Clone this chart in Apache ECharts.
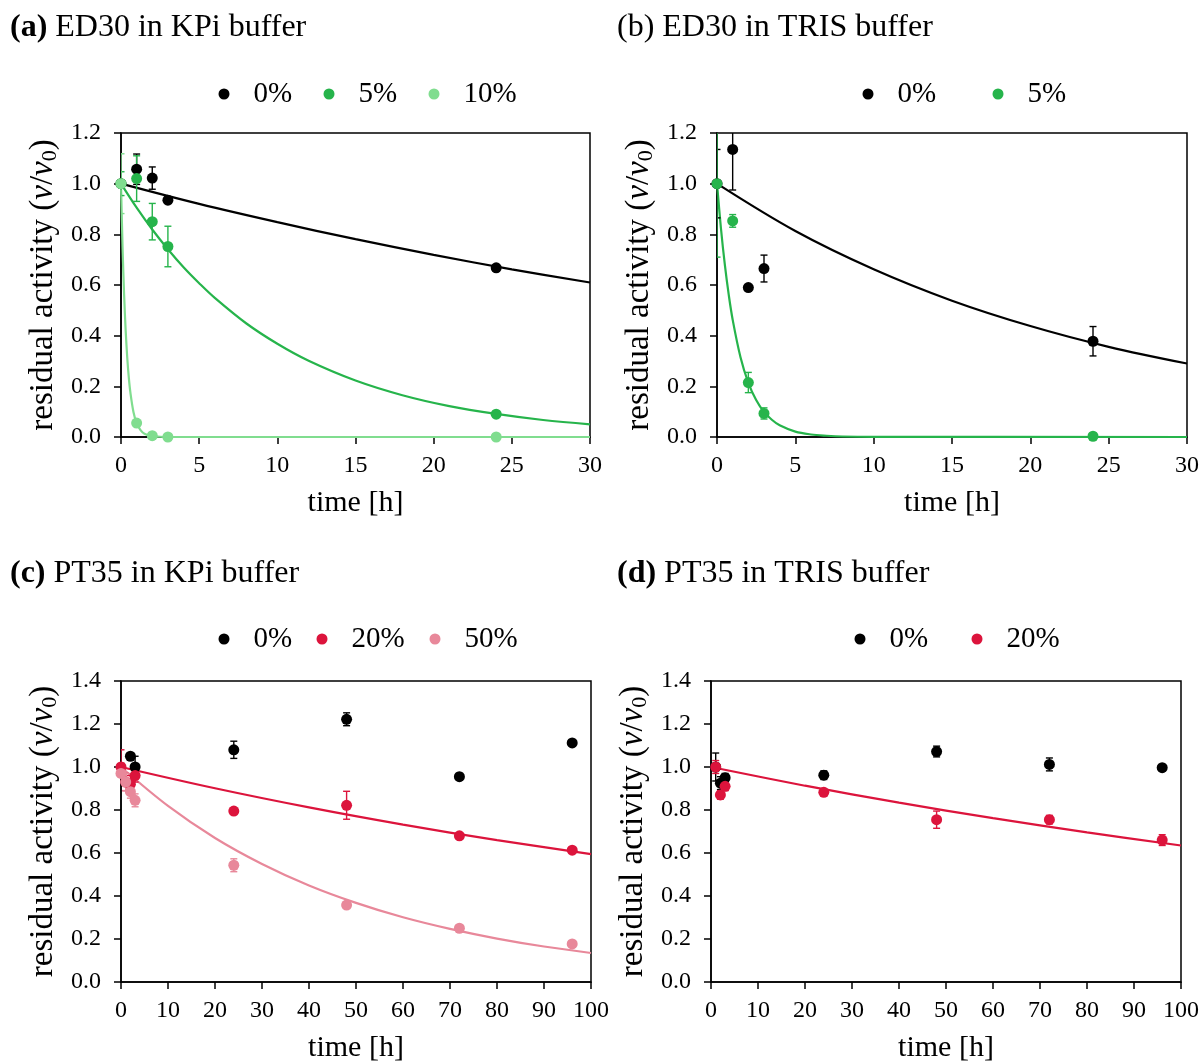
<!DOCTYPE html>
<html><head><meta charset="utf-8">
<script src="https://cdn.jsdelivr.net/npm/echarts@6/dist/echarts.min.js"></script>
<style>html,body{margin:0;padding:0;background:#fff}#c{width:1203px;height:1064px}</style>
</head><body><div id="c"></div>
<script>
// ---------- data ----------
// (a) ED30 in KPi buffer
const a0_t = [0, 1, 2, 3, 24];
const a0_v = [1.0, 1.057, 1.022, 0.935, 0.668];
const a0_e = [0.0, 0.06, 0.044, 0.012, 0.01];
const a5_t = [0, 1, 2, 3, 24];
const a5_v = [1.0, 1.02, 0.85, 0.752, 0.09];
const a5_e = [0.047, 0.09, 0.072, 0.08, 0.005];
const a10_t = [0, 1, 2, 3, 24];
const a10_v = [1.0, 0.055, 0.005, 0.0, 0.0];
const a10_e = [0.118, 0.005, 0.003, 0.002, 0.0];
const aFit0_t = [0, 5, 10, 15, 20, 25, 30];
const aFit0_v = [1.0, 0.92, 0.848, 0.781, 0.719, 0.662, 0.61];
const aFit5_t = [0, 1, 2, 3, 4, 5, 6, 8, 10, 12, 15, 18, 21, 24, 27, 30];
const aFit5_v = [1.0, 0.905, 0.819, 0.741, 0.67, 0.607, 0.549, 0.449, 0.368, 0.301, 0.223, 0.165, 0.122, 0.091, 0.067, 0.05];
const aFit10_t = [0, 0.1, 0.2, 0.3, 0.4, 0.5, 0.6, 0.8, 1, 1.25, 1.5, 2, 2.5, 3, 5, 30];
const aFit10_v = [1.0, 0.748, 0.56, 0.419, 0.313, 0.234, 0.176, 0.098, 0.055, 0.027, 0.013, 0.003, 0.001, 0, 0, 0];

// (b) ED30 in TRIS buffer
const b0_t = [0, 1, 2, 3, 24];
const b0_v = [1.0, 1.135, 0.59, 0.665, 0.378];
const b0_e = [0.135, 0.16, 0.01, 0.053, 0.058];
const b5_t = [0, 1, 2, 3, 24];
const b5_v = [1.0, 0.853, 0.215, 0.093, 0.003];
const b5_e = [0.29, 0.025, 0.04, 0.022, 0.0];
const bFit0_t = [0, 5, 10, 15, 20, 25, 30];
const bFit0_v = [1.0, 0.813, 0.662, 0.538, 0.438, 0.356, 0.29];
const bFit5_t = [0, 0.25, 0.5, 0.75, 1, 1.5, 2, 2.5, 3, 3.5, 4, 5, 6, 7, 8, 10, 30];
const bFit5_v = [1.0, 0.825, 0.68, 0.561, 0.463, 0.315, 0.214, 0.146, 0.099, 0.068, 0.046, 0.021, 0.01, 0.005, 0.002, 0.0005, 0];

// (c) PT35 in KPi buffer
const c0_t = [2, 3, 24, 48, 72, 96];
const c0_v = [1.05, 1.0, 1.08, 1.222, 0.955, 1.112];
const c0_e = [0.01, 0.05, 0.04, 0.03, 0.015, 0.01];
const c20_t = [0, 1, 2, 3, 24, 48, 72, 96];
const c20_v = [1.0, 0.93, 0.92, 0.96, 0.795, 0.822, 0.68, 0.613];
const c20_e = [0.08, 0.04, 0.04, 0.03, 0.01, 0.065, 0.01, 0.01];
const c50_t = [0, 1, 2, 3, 24, 48, 72, 96];
const c50_v = [0.97, 0.93, 0.885, 0.845, 0.543, 0.358, 0.25, 0.177];
const c50_e = [0.05, 0.04, 0.03, 0.03, 0.03, 0.01, 0.01, 0.01];
const cFit20_t = [0, 20, 40, 60, 80, 100];
const cFit20_v = [1.0, 0.901, 0.812, 0.732, 0.66, 0.595];
const cFit50_t = [0, 10, 20, 30, 40, 50, 60, 70, 80, 90, 100];
const cFit50_v = [1.0, 0.819, 0.67, 0.549, 0.449, 0.368, 0.301, 0.247, 0.202, 0.165, 0.135];

// (d) PT35 in TRIS buffer
const d0_t = [1, 2, 3, 24, 48, 72, 96];
const d0_v = [1.0, 0.925, 0.95, 0.962, 1.072, 1.012, 0.997];
const d0_e = [0.065, 0.03, 0.02, 0.02, 0.025, 0.03, 0.01];
const d20_t = [1, 2, 3, 24, 48, 72, 96];
const d20_v = [1.0, 0.87, 0.91, 0.882, 0.755, 0.755, 0.66];
const d20_e = [0.03, 0.02, 0.02, 0.01, 0.04, 0.02, 0.025];
const dFit20_t = [0, 20, 40, 60, 80, 100];
const dFit20_v = [1.0, 0.913, 0.834, 0.762, 0.696, 0.635];

// ---------- styling ----------
const FONT = 'Liberation Serif';
const BLACK = '#000000', GREEN = '#26b44b', LGREEN = '#80dd8f', RED = '#dc143c', PINK = '#e8889a';

const grids = [
  {left: 121, top: 133, width: 469, height: 304},
  {left: 717, top: 133, width: 470, height: 304},
  {left: 121, top: 681, width: 470, height: 301},
  {left: 711, top: 681, width: 470, height: 301}
];
const xMax = [30, 30, 100, 100], xInt = [5, 5, 10, 10];
const yMax = [1.2, 1.2, 1.4, 1.4];

const xAxis = grids.map((g, i) => ({
  gridIndex: i, type: 'value', min: 0, max: xMax[i], interval: xInt[i],
  name: 'time [h]', nameLocation: 'middle', nameGap: 51,
  nameTextStyle: {fontFamily: FONT, fontSize: 30, color: '#000'},
  axisLine: {show: true, lineStyle: {color: '#000', width: 1.5}},
  axisTick: {show: true, length: 7, lineStyle: {color: '#000', width: 1.5}},
  axisLabel: {fontFamily: FONT, fontSize: 24, color: '#000', margin: 17},
  splitLine: {show: false}
}));
const yName = '{n|residual activity (}{i|v}{n|/}{i|v}{s|0}{n|)}';
const yAxis = grids.map((g, i) => ({
  gridIndex: i, type: 'value', min: 0, max: yMax[i], interval: 0.2,
  name: yName, nameLocation: 'middle', nameRotate: 90, nameGap: 60,
  nameTextStyle: {fontFamily: FONT, fontSize: 33, color: '#000',
    rich: {
      n: {fontFamily: FONT, fontSize: 33, lineHeight: 36, color: '#000'},
      i: {fontFamily: FONT, fontSize: 33, lineHeight: 36, fontStyle: 'italic', color: '#000'},
      s: {fontFamily: FONT, fontSize: 22, lineHeight: 22, verticalAlign: 'bottom', color: '#000'}
    }},
  axisLine: {show: true, lineStyle: {color: '#000', width: 1.5}},
  axisTick: {show: true, length: 7, lineStyle: {color: '#000', width: 1.5}},
  axisLabel: {fontFamily: FONT, fontSize: 24, color: '#000', margin: 20,
    formatter: v => v.toFixed(1)},
  splitLine: {show: false}
}));

function pts(t, v) { return t.map((x, i) => [x, v[i]]); }
function scatter(gi, name, t, v, color) {
  return {type: 'scatter', name, xAxisIndex: gi, yAxisIndex: gi, data: pts(t, v),
    symbol: 'circle', symbolSize: 11, itemStyle: {color, opacity: 1}, z: 5, clip: false};
}
function errbars(gi, t, v, e, color) {
  return {type: 'custom', name: 'err', xAxisIndex: gi, yAxisIndex: gi, clip: true, z: 4,
    encode: {x: 0, y: 1},
    data: t.map((x, i) => [x, v[i], e[i]]),
    renderItem(params, api) {
      const x = api.value(0), y = api.value(1), er = api.value(2);
      if (!er) return null;
      const p1 = api.coord([x, y + er]), p2 = api.coord([x, y - er]);
      const w = 3.5, st = {stroke: color, lineWidth: 1.4};
      return {type: 'group', children: [
        {type: 'line', shape: {x1: p1[0], y1: p1[1], x2: p2[0], y2: p2[1]}, style: st},
        {type: 'line', shape: {x1: p1[0] - w, y1: p1[1], x2: p1[0] + w, y2: p1[1]}, style: st},
        {type: 'line', shape: {x1: p2[0] - w, y1: p2[1], x2: p2[0] + w, y2: p2[1]}, style: st}
      ]};
    }};
}
function fit(gi, t, v, color) {
  return {type: 'line', name: 'fit', xAxisIndex: gi, yAxisIndex: gi, data: pts(t, v),
    showSymbol: false, smooth: 0.35, clip: true,
    lineStyle: {color, width: 2.2}, z: 2, silent: true};
}

const series = [
  fit(0, aFit0_t, aFit0_v, BLACK), fit(0, aFit5_t, aFit5_v, GREEN), fit(0, aFit10_t, aFit10_v, LGREEN),
  errbars(0, a0_t, a0_v, a0_e, BLACK), errbars(0, a5_t, a5_v, a5_e, GREEN), errbars(0, a10_t, a10_v, a10_e, LGREEN),
  scatter(0, '0%', a0_t, a0_v, BLACK), scatter(0, '5%', a5_t, a5_v, GREEN), scatter(0, '10%', a10_t, a10_v, LGREEN),

  fit(1, bFit0_t, bFit0_v, BLACK), fit(1, bFit5_t, bFit5_v, GREEN),
  errbars(1, b0_t, b0_v, b0_e, BLACK), errbars(1, b5_t, b5_v, b5_e, GREEN),
  scatter(1, '0%', b0_t, b0_v, BLACK), scatter(1, '5%', b5_t, b5_v, GREEN),

  fit(2, cFit20_t, cFit20_v, RED), fit(2, cFit50_t, cFit50_v, PINK),
  errbars(2, c0_t, c0_v, c0_e, BLACK), errbars(2, c20_t, c20_v, c20_e, RED), errbars(2, c50_t, c50_v, c50_e, PINK),
  scatter(2, '0%', c0_t, c0_v, BLACK), scatter(2, '20%', c20_t, c20_v, RED), scatter(2, '50%', c50_t, c50_v, PINK),

  fit(3, dFit20_t, dFit20_v, RED),
  errbars(3, d0_t, d0_v, d0_e, BLACK), errbars(3, d20_t, d20_v, d20_e, RED),
  scatter(3, '0%', d0_t, d0_v, BLACK), scatter(3, '20%', d20_t, d20_v, RED)
];

// legends: one per entry, positioned like the reference
const legendItems = [
  ['0%', 224, 94], ['5%', 329, 94], ['10%', 434, 94],
  ['0%', 868, 94], ['5%', 998, 94],
  ['0%', 224, 639], ['20%', 322, 639], ['50%', 435, 639],
  ['0%', 860, 639], ['20%', 977, 639]
];
const legend = legendItems.map(([n, cx, cy]) => ({
  data: [n], left: cx - 5.5, top: cy - 16, icon: 'circle', itemWidth: 11, itemHeight: 11,
  selectedMode: false, padding: 0,
  textStyle: {fontFamily: FONT, fontSize: 29, lineHeight: 32, color: '#000', padding: [0, 0, 0, 19]}
}));

const titleRich = {
  b: {fontFamily: FONT, fontSize: 32, fontWeight: 'bold', color: '#000'},
  r: {fontFamily: FONT, fontSize: 32, color: '#000'}
};
const titles = [
  ['{b|(a)}{r| ED30 in KPi buffer}', 10, 12],
  ['{r|(b) ED30 in TRIS buffer}', 617, 12],
  ['{b|(c)}{r| PT35 in KPi buffer}', 10, 558],
  ['{b|(d)}{r| PT35 in TRIS buffer}', 617, 558]
].map(([text, l, t]) => ({text, left: l, top: t, padding: 0,
  textStyle: {fontFamily: FONT, fontSize: 32, fontWeight: 'normal', color: '#000', rich: titleRich}}));

const chart = echarts.init(document.getElementById('c'), null, {renderer: 'canvas'});
chart.setOption({
  backgroundColor: '#fff',
  animation: false,
  title: titles,
  legend,
  grid: grids.map(g => Object.assign({show: true, borderColor: '#000', borderWidth: 1.5, backgroundColor: 'transparent', containLabel: false}, g)),
  xAxis, yAxis, series
});
</script></body></html>
